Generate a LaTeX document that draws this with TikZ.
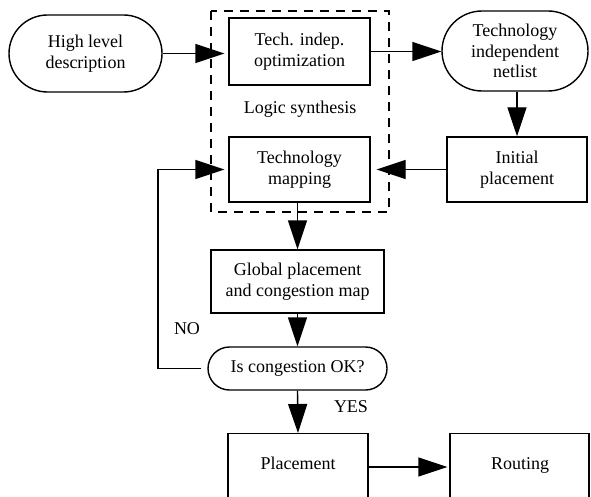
\documentclass[tikz,border=0pt]{standalone}
\usepackage{fontspec}
\setmainfont{Liberation Serif}
\usetikzlibrary{arrows.meta,shapes.misc}
\begin{document}
\begin{tikzpicture}[x=1pt,y=-1pt,
  every node/.style={font=\fontsize{18}{20.5}\selectfont, align=center, inner sep=0pt},
  box/.style={draw, line width=1.4pt, rectangle},
  stadium/.style={draw, line width=1.4pt, rounded rectangle},
  arr/.style={line width=1.4pt, -{Triangle[length=29pt,width=19pt]}},
  ln/.style={line width=1.4pt}
]
\useasboundingbox (0,0) rectangle (591,497);
\clip (0,0) rectangle (591,497);
\fill[white] (0,0) rectangle (591,497);
% dashed region
\draw[line width=1.4pt, dash pattern=on 9pt off 7pt] (211,11) rectangle (389,212);
\node (logic) at (300,109) {Logic synthesis};
% nodes
\node[stadium, minimum width=153pt, minimum height=77pt] (high) at (85.5,53.5) {High level\\description};
\node[box, minimum width=141pt, minimum height=67pt] (tech) at (299.5,51.5) {Tech. indep.\\optimization};
\node[stadium, minimum width=146pt, minimum height=80pt] (netlist) at (515,51) {Technology\\independent\\netlist};
\node[box, minimum width=140pt, minimum height=65pt] (initial) at (517,169.5) {Initial\\placement};
\node[box, minimum width=141pt, minimum height=65pt] (techmap) at (299.5,169.5) {Technology\\mapping};
\node[box, minimum width=173pt, minimum height=63pt] (global) at (297.5,281.5) {Global placement\\and congestion map};
\node[stadium, minimum width=179pt, minimum height=43pt] (cong) at (297.5,368.5) {Is congestion OK?};
\node[box, minimum width=140pt, minimum height=70pt, anchor=north] (place) at (298,433) {};
\node[anchor=base] (placetxt) at (298,469) {Placement};
\node[box, minimum width=139pt, minimum height=70pt, anchor=north] (route) at (519.5,433) {};
\node[anchor=base] (routetxt) at (520,469) {Routing};
\node (no) at (187,329) {NO};
\node (yes) at (351,407) {YES};
\coordinate (fb) at (158,369);
% connectors
\draw[arr, shorten >=4pt] (high.east) -- (high.east -| tech.west);
\draw[arr] (tech.east) -- (tech.east -| netlist.west);
\draw[arr] (initial.north |- netlist.south) -- (initial.north);
\draw[arr, shorten >=6pt] (initial.west) -- (initial.west -| techmap.east);
\draw[arr] (global.north |- techmap.south) -- (global.north);
\draw[arr] (global.south) -- (global.south |- cong.north);
\draw[arr] (cong.south) -- (place.north);
\draw[arr, shorten >=2pt] (place.east |- 0,467) -- (route.west |- 0,467);
\draw[arr, shorten >=4pt, shorten <=6pt] (cong.west) -- (cong.west -| fb) |- (techmap.west);
\end{tikzpicture}
\end{document}
